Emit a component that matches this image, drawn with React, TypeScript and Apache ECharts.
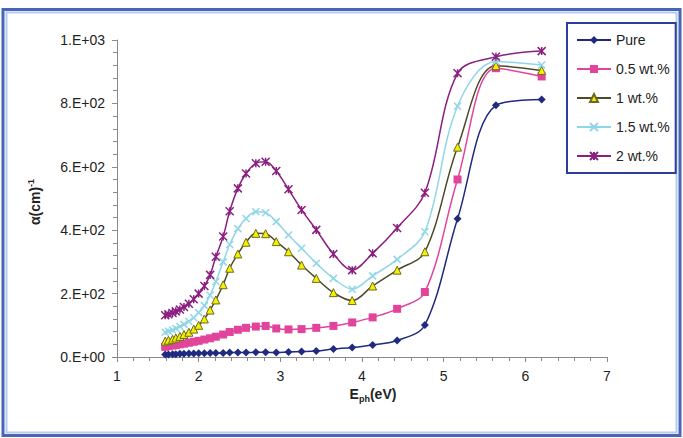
import React, { useEffect, useRef } from "react";
import * as echarts from "echarts";

const energy = [1.59, 1.63, 1.68, 1.72, 1.77, 1.82, 1.88, 1.94, 2.0, 2.07, 2.14, 2.21, 2.3, 2.38, 2.48, 2.58, 2.7, 2.82, 2.95, 3.1, 3.26, 3.44, 3.65, 3.88, 4.13, 4.43, 4.77, 5.17, 5.64, 6.2];

const pure = [8, 8, 9, 9, 10, 10, 11, 11, 12, 12, 13, 13, 13, 14, 14, 14, 15, 15, 14, 16, 17, 19, 25, 30, 38, 52, 101, 436, 794, 812];
const wt05 = [32, 34, 36, 38, 40, 42, 45, 48, 51, 55, 59, 64, 71, 79, 86, 92, 96, 98, 90, 87, 88, 92, 98, 109, 125, 152, 205, 560, 911, 885];
const wt1 = [50, 53, 56, 60, 65, 71, 78, 88, 100, 120, 148, 180, 228, 280, 325, 362, 390, 389, 364, 332, 290, 248, 203, 178, 224, 274, 332, 662, 919, 904];
const wt15 = [78, 81, 85, 90, 96, 103, 112, 124, 140, 162, 195, 238, 300, 355, 405, 437, 458, 455, 427, 385, 343, 296, 248, 214, 256, 308, 395, 791, 932, 921];
const wt2 = [132, 135, 139, 144, 150, 158, 168, 182, 200, 224, 259, 316, 380, 460, 532, 579, 611, 616, 587, 529, 464, 401, 325, 274, 327, 407, 518, 895, 947, 965];

const seriesNames = ["Pure", "0.5 wt.%", "1 wt.%", "1.5 wt.%", "2 wt.%"];

const FONT = "'Liberation Sans', Arial, sans-serif";

function sci(v: number): string {
  if (v === 0) return "0.E+00";
  const e = Math.floor(Math.log10(v) + 1e-9);
  const m = Math.round(v / Math.pow(10, e));
  return `${m}.E+${String(e).padStart(2, "0")}`;
}

function pts(ys: number[]) {
  return energy.map((x, i) => [x, ys[i]]);
}

export default function App() {
  const ref = useRef<HTMLDivElement>(null);
  useEffect(() => {
    if (!ref.current) return;
    const chart = echarts.init(ref.current, undefined, { renderer: "svg" });
    const lineBase = { type: "line", smooth: 0.35, showSymbol: true, z: 3 };
    const option: any = {
      animation: false,
      backgroundColor: "#ffffff",
      grid: { left: 117, right: 76, top: 40, bottom: 81 },
      legend: {
        orient: "vertical",
        left: 567,
        top: 23,
        padding: [10, 6, 10, 9],
        itemWidth: 34,
        itemHeight: 10,
        itemGap: 15,
        borderColor: "#2b3e9c",
        borderWidth: 2,
        backgroundColor: "#ffffff",
        textStyle: { fontSize: 14, fontFamily: FONT, color: "#222" },
        data: seriesNames,
      },
      xAxis: {
        type: "value",
        min: 1,
        max: 7,
        interval: 1,
        axisLine: { lineStyle: { color: "#8a8a8a", width: 1 } },
        axisTick: { show: true, length: 5, lineStyle: { color: "#8a8a8a" } },
        minorTick: { show: true, splitNumber: 5, length: 4, lineStyle: { color: "#8a8a8a" } },
        splitLine: { show: false },
        axisLabel: { fontSize: 14, fontFamily: FONT, color: "#222", margin: 12 },
      },
      yAxis: {
        type: "value",
        min: 0,
        max: 1000,
        interval: 200,
        axisLine: { show: true, lineStyle: { color: "#8a8a8a", width: 1 } },
        axisTick: { show: true, length: 5, lineStyle: { color: "#8a8a8a" } },
        minorTick: { show: true, splitNumber: 5, length: 4, lineStyle: { color: "#8a8a8a" } },
        splitLine: { show: false },
        axisLabel: { fontSize: 14, fontFamily: FONT, color: "#222", margin: 12, formatter: (v: number) => sci(v) },
      },
      series: [
        {
          ...lineBase,
          name: seriesNames[0],
          data: pts(pure),
          symbol: "diamond",
          symbolSize: 8,
          lineStyle: { color: "#1f2a80", width: 1.5 },
          itemStyle: { color: "#1f2a80" },
        },
        {
          ...lineBase,
          name: seriesNames[1],
          data: pts(wt05),
          symbol: "rect",
          symbolSize: 8,
          lineStyle: { color: "#e2449c", width: 1.5 },
          itemStyle: { color: "#e2449c" },
        },
        {
          ...lineBase,
          name: seriesNames[2],
          data: pts(wt1),
          symbol: "triangle",
          symbolSize: 8,
          lineStyle: { color: "#4d4a2a", width: 1.5 },
          itemStyle: { color: "#f4f000", borderColor: "#6d6a20", borderWidth: 1 },
        },
        {
          ...lineBase,
          name: seriesNames[3],
          data: pts(wt15),
          symbol: "path://M0 0L10 10M10 0L0 10",
          symbolSize: 7,
          lineStyle: { color: "#8fd6e8", width: 1.5 },
          itemStyle: { color: "#8fd6e8", borderColor: "#8fd6e8", borderWidth: 1.5 },
        },
        {
          ...lineBase,
          name: seriesNames[4],
          data: pts(wt2),
          symbol: "path://M0 0L10 10M10 0L0 10M5 0L5 10",
          symbolSize: 8,
          lineStyle: { color: "#8b1f80", width: 1.5 },
          itemStyle: { color: "#8b1f80", borderColor: "#8b1f80", borderWidth: 1.5 },
        },
      ],
      graphic: [
        {
          type: "rect",
          shape: { x: 3, y: 9.5, width: 677, height: 426 },
          style: { fill: "none", stroke: "#4766b8", lineWidth: 3 },
          silent: true,
        },
        {
          type: "rect",
          shape: { x: 6.5, y: 12.5, width: 670, height: 420 },
          style: { fill: "none", stroke: "#b8caee", lineWidth: 2 },
          silent: true,
        },
        {
          type: "text",
          x: 373,
          y: 395,
          style: {
            text: "{a|E}{s|ph}{a|(eV)}",
            align: "center",
            verticalAlign: "middle",
            fill: "#222",
            rich: {
              a: { fontSize: 14, fontWeight: "bold", fontFamily: FONT, fill: "#222", verticalAlign: "top", lineHeight: 16 },
              s: { fontSize: 9, fontWeight: "bold", fontFamily: FONT, fill: "#222", verticalAlign: "bottom", lineHeight: 10 },
            },
          },
        },
        {
          type: "text",
          x: 34,
          y: 202,
          rotation: Math.PI / 2,
          style: {
            text: "{a|α(cm)}{s|-1}",
            align: "center",
            verticalAlign: "middle",
            fill: "#222",
            rich: {
              a: { fontSize: 14, fontWeight: "bold", fontFamily: FONT, fill: "#222", verticalAlign: "bottom", lineHeight: 16 },
              s: { fontSize: 9, fontWeight: "bold", fontFamily: FONT, fill: "#222", verticalAlign: "top", lineHeight: 10 },
            },
          },
        },
      ],
    };
    chart.setOption(option);
    return () => chart.dispose();
  }, []);
  return <div ref={ref} style={{ width: 683, height: 438, position: "absolute", left: 0, top: 0 }} />;
}
